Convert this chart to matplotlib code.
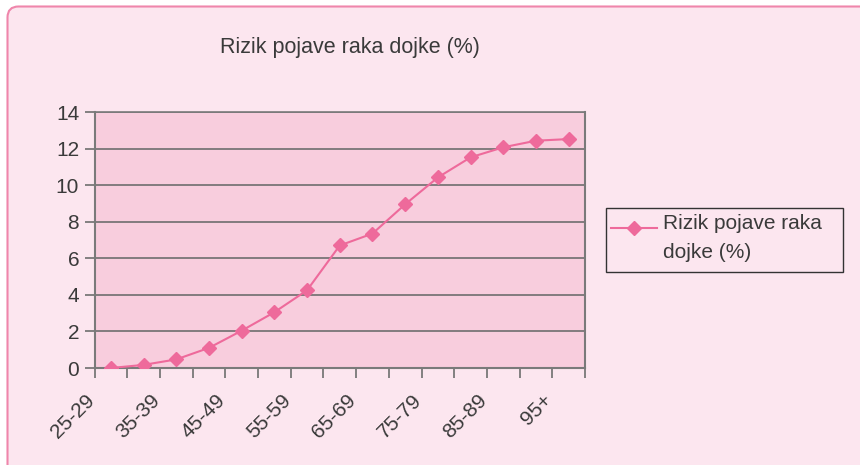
import matplotlib.pyplot as plt
import matplotlib.transforms as mtransforms
from matplotlib.patches import FancyBboxPatch, Rectangle
from matplotlib.lines import Line2D

plt.rcParams['font.family'] = ['Liberation Sans', 'DejaVu Sans']

# age groups and breast cancer risk (%)
age_groups = ['25-29', '30-34', '35-39', '40-44', '45-49', '50-54', '55-59',
              '60-64', '65-69', '70-74', '75-79', '80-84', '85-89', '90-94', '95+']
risk = [0.0, 0.17, 0.47, 1.1, 2.04, 3.05, 4.25, 6.7, 7.35, 8.95, 10.42,
        11.52, 12.07, 12.43, 12.52]
y_ticks = [0, 2, 4, 6, 8, 10, 12, 14]
series_name = 'Rizik pojave raka dojke (%)'

W, H = 860, 465
bg = '#fce6ef'
plot_bg = '#f8cddd'
pink = '#ee6a9b'
text_col = '#3a3a3a'
grid_col = '#6e6e6e'
fs = 15

fig = plt.figure(figsize=(W / 100, H / 100), dpi=100, facecolor='white')

# full-figure canvas in pixel units for the frame and the legend
canvas = fig.add_axes([0, 0, 1, 1], zorder=-1)
canvas.set_xlim(0, W)
canvas.set_ylim(H, 0)
canvas.axis('off')
canvas.add_patch(FancyBboxPatch((7.5, 6.5), W + 20, H + 20,
                                boxstyle='round,pad=0,rounding_size=11',
                                facecolor=bg, edgecolor='#ef86ab', linewidth=1.5))

left, right, top, bottom = 94.5, 585, 112, 368
ax = fig.add_axes([left / W, 1 - bottom / H, (right - left) / W, (bottom - top) / H])
ax.set_facecolor(plot_bg)

x = list(range(len(age_groups)))
ax.plot(x, risk, color=pink, linewidth=1.5, marker='D', markersize=7,
        markeredgecolor=pink, markerfacecolor=pink, zorder=3)

ax.set_xlim(-0.5, len(age_groups) - 0.5)
ax.set_ylim(0, 14)
ax.set_yticks(y_ticks)
ax.set_yticklabels([str(v) for v in y_ticks], fontsize=fs, color=text_col)
ax.yaxis.grid(True, color=grid_col, linewidth=1.2)
ax.set_axisbelow(True)

# category boundaries carry the tick marks, labels on every other category
ax.set_xticks([i - 0.5 for i in range(len(age_groups) + 1)])
ax.set_xticklabels([])
ax.set_xticks(x[::2], minor=True)
ax.set_xticklabels(age_groups[::2], minor=True, rotation=45, ha='right',
                   rotation_mode='anchor', fontsize=fs, color=text_col)
ax.tick_params(axis='x', which='minor', length=0, pad=12)
ax.tick_params(axis='x', which='major', length=7, color=grid_col, width=1.2)
ax.tick_params(axis='y', length=7, color=grid_col, width=1.2, pad=4)

# slant labels sit a little left of their category
shift = mtransforms.ScaledTranslation(-0.26, -0.06, fig.dpi_scale_trans)
for lbl in ax.get_xticklabels(minor=True):
    lbl.set_transform(lbl.get_transform() + shift)

for side in ['left', 'bottom', 'top', 'right']:
    ax.spines[side].set_color('#7a7a7a')
    ax.spines[side].set_linewidth(1.5)
ax.spines['top'].set_linewidth(1.2)

canvas.text(350, 48, series_name, ha='center', va='center',
            fontsize=15.5, color=text_col)

# legend box
lx0, ly0, lx1, ly1 = 605.5, 207.5, 842.5, 271.5
canvas.add_patch(Rectangle((lx0, ly0), lx1 - lx0, ly1 - ly0, facecolor=bg,
                           edgecolor='#333333', linewidth=1.0))
canvas.add_line(Line2D([611, 657], [228, 228], color=pink, linewidth=1.5))
canvas.plot([634], [228], color=pink, marker='D', markersize=7, linestyle='none')
canvas.text(663, 223, 'Rizik pojave raka', ha='left', va='center',
            fontsize=fs, color=text_col)
canvas.text(663, 252, 'dojke (%)', ha='left', va='center',
            fontsize=fs, color=text_col)

fig.savefig('out.png', dpi=100, facecolor='white')
